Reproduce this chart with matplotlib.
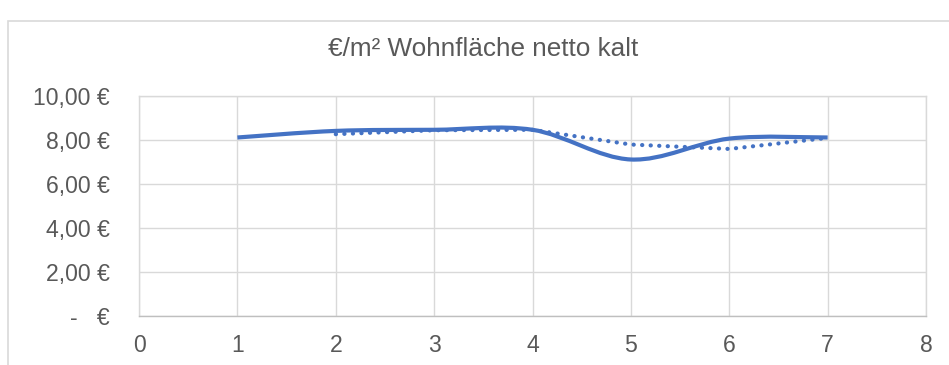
import matplotlib
matplotlib.use("Agg")
import matplotlib.pyplot as plt
from matplotlib.path import Path
from matplotlib.patches import PathPatch, Rectangle
from matplotlib.ticker import FuncFormatter

plt.rcParams['font.family'] = ['Liberation Sans', 'DejaVu Sans']

# data
periods = [1, 2, 3, 4, 5, 6, 7]
price = [8.10, 8.40, 8.45, 8.45, 7.10, 8.05, 8.10]
trend_x = [2, 3, 4, 5, 6, 7]
trend = [8.25, 8.43, 8.45, 7.78, 7.58, 8.08]

title = "€/m² Wohnfläche netto kalt"
blue = "#4472C4"
grey_txt = "#595959"
grey_line = "#D9D9D9"


def smooth_path(xs, ys):
    # Excel-style smoothed line: bezier segments, control points from neighbours
    pts = list(zip(xs, ys))
    verts = [pts[0]]
    codes = [Path.MOVETO]
    n = len(pts)
    for i in range(n - 1):
        p0 = pts[i - 1] if i > 0 else pts[i]
        p1 = pts[i]
        p2 = pts[i + 1]
        p3 = pts[i + 2] if i + 2 < n else pts[i + 1]
        c1 = (p1[0] + (p2[0] - p0[0]) / 6, p1[1] + (p2[1] - p0[1]) / 6)
        c2 = (p2[0] - (p3[0] - p1[0]) / 6, p2[1] - (p3[1] - p1[1]) / 6)
        verts += [c1, c2, p2]
        codes += [Path.CURVE4] * 3
    return Path(verts, codes)


def euro(v, p):
    if abs(v) < 1e-9:
        return "-   €"
    return f"{v:.2f}".replace(".", ",") + " €"


fig = plt.figure(figsize=(9.49, 3.65), dpi=100)
ax = fig.add_axes([0.1465, 0.1351, 0.8293, 0.6027])

# outer chart border
fig.patches.append(Rectangle((8 / 949, -0.1), 1.2, 1.1 - 21 / 365, transform=fig.transFigure,
                             fill=False, edgecolor=grey_line, linewidth=1.2))

ax.plot(trend_x, trend, color=blue, linewidth=3.0, linestyle=(0, (0.05, 2.0)),
        dash_capstyle='round', zorder=3)
ax.add_patch(PathPatch(smooth_path(periods, price), fill=False, edgecolor=blue,
                       linewidth=3.0, capstyle='butt', zorder=4))

ax.set_xlim(0, 8)
ax.set_ylim(0, 10)
ax.set_xticks(range(0, 9))
ax.set_yticks([0, 2, 4, 6, 8, 10])
ax.yaxis.set_major_formatter(FuncFormatter(euro))
ax.grid(True, color=grey_line, linewidth=1.0)
ax.set_axisbelow(True)
for s in ax.spines.values():
    s.set_color(grey_line)
    s.set_linewidth(1.0)
ax.spines['bottom'].set_color("#BFBFBF")
ax.tick_params(length=0, labelsize=16.6, colors=grey_txt)
ax.tick_params(axis='y', pad=21)
ax.tick_params(axis='x', pad=13)

fig.text(483 / 949, 1 - 56 / 365, title, ha='center', va='baseline', fontsize=18.8, color=grey_txt)

fig.savefig("out.png", dpi=100)
